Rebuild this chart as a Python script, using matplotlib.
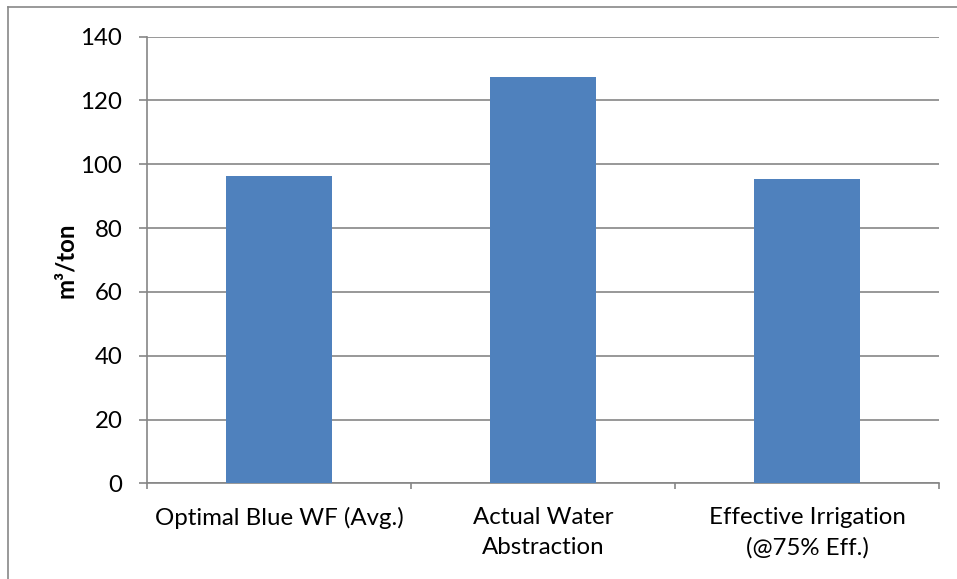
import matplotlib
matplotlib.use("Agg")
import matplotlib.pyplot as plt
from matplotlib.lines import Line2D

categories = ["Optimal Blue WF (Avg.)", "Actual Water\nAbstraction", "Effective Irrigation\n(@75% Eff.)"]
values = [96.3, 127.3, 95.4]
y_ticks = [0, 20, 40, 60, 80, 100, 120, 140]

plt.rcParams['font.family'] = ['Lato', 'DejaVu Sans']

fig = plt.figure(figsize=(9.57, 5.79), dpi=100)
ax = fig.add_axes([147/957, 1-483.3/579, (939-147)/957, (483.3-36.7)/579])

x = list(range(len(categories)))
ax.bar(x, values, width=0.4, color="#4F81BD", zorder=3)
ax.set_xlim(-0.5, 2.5)
ax.set_ylim(0, 140)
ax.set_yticks(y_ticks)
ax.set_yticklabels([str(v) for v in y_ticks], fontsize=17.3)
ax.set_xticks(x)
ax.set_xticklabels(categories, fontsize=17.3, linespacing=1.55)
ax.tick_params(axis='x', length=0, pad=17)
ax.tick_params(axis='y', length=5.8, width=1.2, color="#868686", pad=12)
# category boundary ticks
ax.set_xticks([-0.5, 0.5, 1.5, 2.5], minor=True)
ax.tick_params(axis='x', which='minor', length=4.5, width=1.2, color="#868686", direction='out')

ax.grid(axis='y', color="#868686", linewidth=1.2, zorder=0)
for s in ['top', 'right']:
    ax.spines[s].set_visible(False)
for s in ['left', 'bottom']:
    ax.spines[s].set_color("#868686")
    ax.spines[s].set_linewidth(1.2)

ax.set_ylabel("m³/ton", fontsize=17.3, fontweight='bold')
ax.yaxis.set_label_coords(-0.088, 0.5)

# outer chart border (top and left)
fig.add_artist(Line2D([8/957, 1], [1-7/579, 1-7/579], color="#888888", linewidth=1.2, transform=fig.transFigure))
fig.add_artist(Line2D([8/957, 8/957], [0, 1-7/579], color="#888888", linewidth=1.2, transform=fig.transFigure))

fig.savefig("out.png", dpi=100)
